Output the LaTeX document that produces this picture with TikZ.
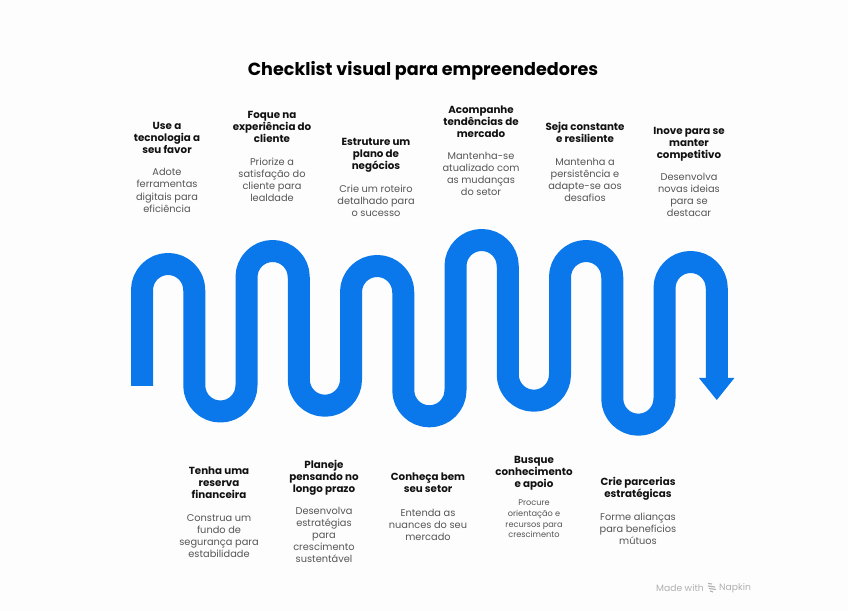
\documentclass[tikz,border=0pt]{standalone}
\usepackage{fontspec}
\setmainfont{Poppins}
\definecolor{flow}{HTML}{0A78EA}
\definecolor{pagebg}{HTML}{FDFDFE}
\definecolor{headtxt}{HTML}{111111}
\definecolor{bodytxt}{HTML}{555555}
\definecolor{marktxt}{HTML}{B0B0B0}
\tikzset{
  x=1bp,y=1bp,
  head/.style={inner sep=0pt,align=center,text=headtxt,font=\bfseries\fontsize{10.3bp}{12bp}\selectfont},
  body/.style={inner sep=0pt,align=center,text=bodytxt,font=\fontsize{9.8bp}{12.2bp}\selectfont},
  bodysmall/.style={inner sep=0pt,align=center,text=bodytxt,font=\fontsize{8.2bp}{10.6bp}\selectfont},
  snake/.style={draw=flow,line width=22bp,line join=round}
}
\begin{document}
\begin{tikzpicture}
\useasboundingbox (0,0) rectangle (848,611);
\fill[pagebg] (0,0) rectangle (848,611);
\node[inner sep=0pt,text=black,font=\bfseries\fontsize{17.55bp}{20bp}\selectfont] (title) at (423,540.5) {Checklist visual para empreendedores};

\draw[snake] (142,225) -- (142,320.9)
  arc[start angle=180,end angle=0,radius=26.125] -- (194.25,225.6)
  arc[start angle=180,end angle=360,radius=26.125] -- (246.5,333.9)
  arc[start angle=180,end angle=0,radius=26.125] -- (298.75,231.4)
  arc[start angle=180,end angle=360,radius=26.125] -- (351,318.9)
  arc[start angle=180,end angle=0,radius=26.125] -- (403.25,220.8)
  arc[start angle=180,end angle=360,radius=26.125] -- (455.5,344.9)
  arc[start angle=180,end angle=0,radius=26.125] -- (507.75,236.4)
  arc[start angle=180,end angle=360,radius=26.125] -- (560,333.9)
  arc[start angle=180,end angle=0,radius=26.125] -- (612.25,212.4)
  arc[start angle=180,end angle=360,radius=26.125] -- (664.5,322.9)
  arc[start angle=180,end angle=0,radius=26.125] -- (716.75,232.5);
\fill[flow] (699,233) -- (734.4,233) -- (716.75,211) -- cycle;

\node[head] (h1) at (167,473) {Use a\\tecnologia a\\seu favor};
\node[body] (b1) at (167,420.5) {Adote\\ferramentas\\digitais para\\eficiência};
\node[head] (h2) at (272,484) {Foque na\\experiência do\\cliente};
\node[body] (b2) at (272,431) {Priorize a\\satisfação do\\cliente para\\lealdade};
\node[head] (h3) at (376,456) {Estruture um\\plano de\\negócios};
\node[body] (b3) at (376,410) {Crie um roteiro\\detalhado para\\o sucesso};
\node[head] (h4) at (481,489) {Acompanhe\\tendências de\\mercado};
\node[body] (b4) at (481,437) {Mantenha-se\\atualizado com\\as mudanças\\do setor};
\node[head] (h5) at (585,479) {Seja constante\\e resiliente};
\node[body] (b5) at (585,431) {Mantenha a\\persistência e\\adapte-se aos\\desafios};
\node[head] (h6) at (689,467) {Inove para se\\manter\\competitivo};
\node[body] (b6) at (689,416) {Desenvolva\\novas ideias\\para se\\destacar};

\node[head] (h7) at (219,128) {Tenha uma\\reserva\\financeira};
\node[body] (b7) at (219,75) {Construa um\\fundo de\\segurança para\\estabilidade};
\node[head] (h8) at (324,133) {Planeje\\pensando no\\longo prazo};
\node[body] (b8) at (324,76) {Desenvolva\\estratégias\\para\\crescimento\\sustentável};
\node[head] (h9) at (428,128) {Conheça bem\\seu setor};
\node[body] (b9) at (428,86) {Entenda as\\nuances do seu\\mercado};
\node[head] (h10) at (534,138) {Busque\\conhecimento\\e apoio};
\node[bodysmall] (b10) at (534,92) {Procure\\orientação e\\recursos para\\crescimento};
\node[head] (h11) at (638,122) {Crie parcerias\\estratégicas};
\node[body] (b11) at (638,82) {Forme alianças\\para benefícios\\mútuos};

\node[inner sep=0pt,anchor=west,text=marktxt,font=\fontsize{9.2bp}{10bp}\selectfont] (mark1) at (656,22.5) {Made with};
\node[inner sep=0pt,anchor=west,text=marktxt,font=\fontsize{9.2bp}{10bp}\selectfont] (mark2) at (719,22.5) {Napkin};
\draw[marktxt,line width=1.1bp] (708,27.5) -- (712,27) (708,25) -- (715,24) (709,22.5) -- (716,21.5) (710,20) -- (713,19);
\end{tikzpicture}
\end{document}
